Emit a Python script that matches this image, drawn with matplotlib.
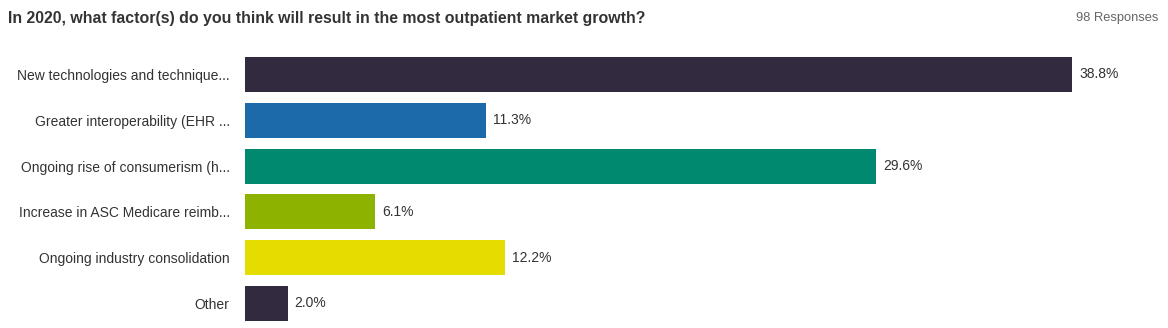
import matplotlib
matplotlib.use("Agg")
import matplotlib.pyplot as plt

categories = [
    "New technologies and technique...",
    "Greater interoperability (EHR ...",
    "Ongoing rise of consumerism (h...",
    "Increase in ASC Medicare reimb...",
    "Ongoing industry consolidation",
    "Other",
]
values = [38.8, 11.3, 29.6, 6.1, 12.2, 2.0]
colors = ["#322b3f", "#1c6aaa", "#00896f", "#8db300", "#e6dd00", "#322b3f"]
title = "In 2020, what factor(s) do you think will result in the most outpatient market growth?"
responses = "98 Responses"

plt.rcParams['font.family'] = ['Liberation Sans', 'DejaVu Sans']

W, H = 1168, 328
fig = plt.figure(figsize=(W / 100, H / 100), dpi=100)

ax_left, ax_right = 245, 1160
ax_top, ax_bottom = 51.6, 326.2
ax = fig.add_axes([ax_left / W, 1 - ax_bottom / H, (ax_right - ax_left) / W, (ax_bottom - ax_top) / H])
px_per_unit = (1072 - 245) / 38.8
ax.set_xlim(0, (ax_right - ax_left) / px_per_unit)
ax.set_ylim(len(values) - 0.5, -0.5)

y = list(range(len(values)))
ax.barh(y, values, height=0.765, color=colors)
for yi, v in zip(y, values):
    ax.annotate(f"{v:.1f}%", (v, yi), xytext=(5, 0), textcoords="offset points",
                va="center", ha="left", fontsize=10, color="#333333")

ax.set_yticks(y)
ax.set_yticklabels(categories, fontsize=10, color="#333333")
ax.tick_params(axis="y", length=0, pad=11)
ax.set_xticks([])
for s in ax.spines.values():
    s.set_visible(False)

fig.text(8 / W, 1 - 18 / H, title, fontsize=11.4, fontweight="bold", color="#333333",
         ha="left", va="center")
fig.text(1158 / W, 1 - 18 / H, responses, fontsize=9.3, color="#666666", ha="right", va="center")

fig.savefig("out.png", dpi=100, facecolor="white")
